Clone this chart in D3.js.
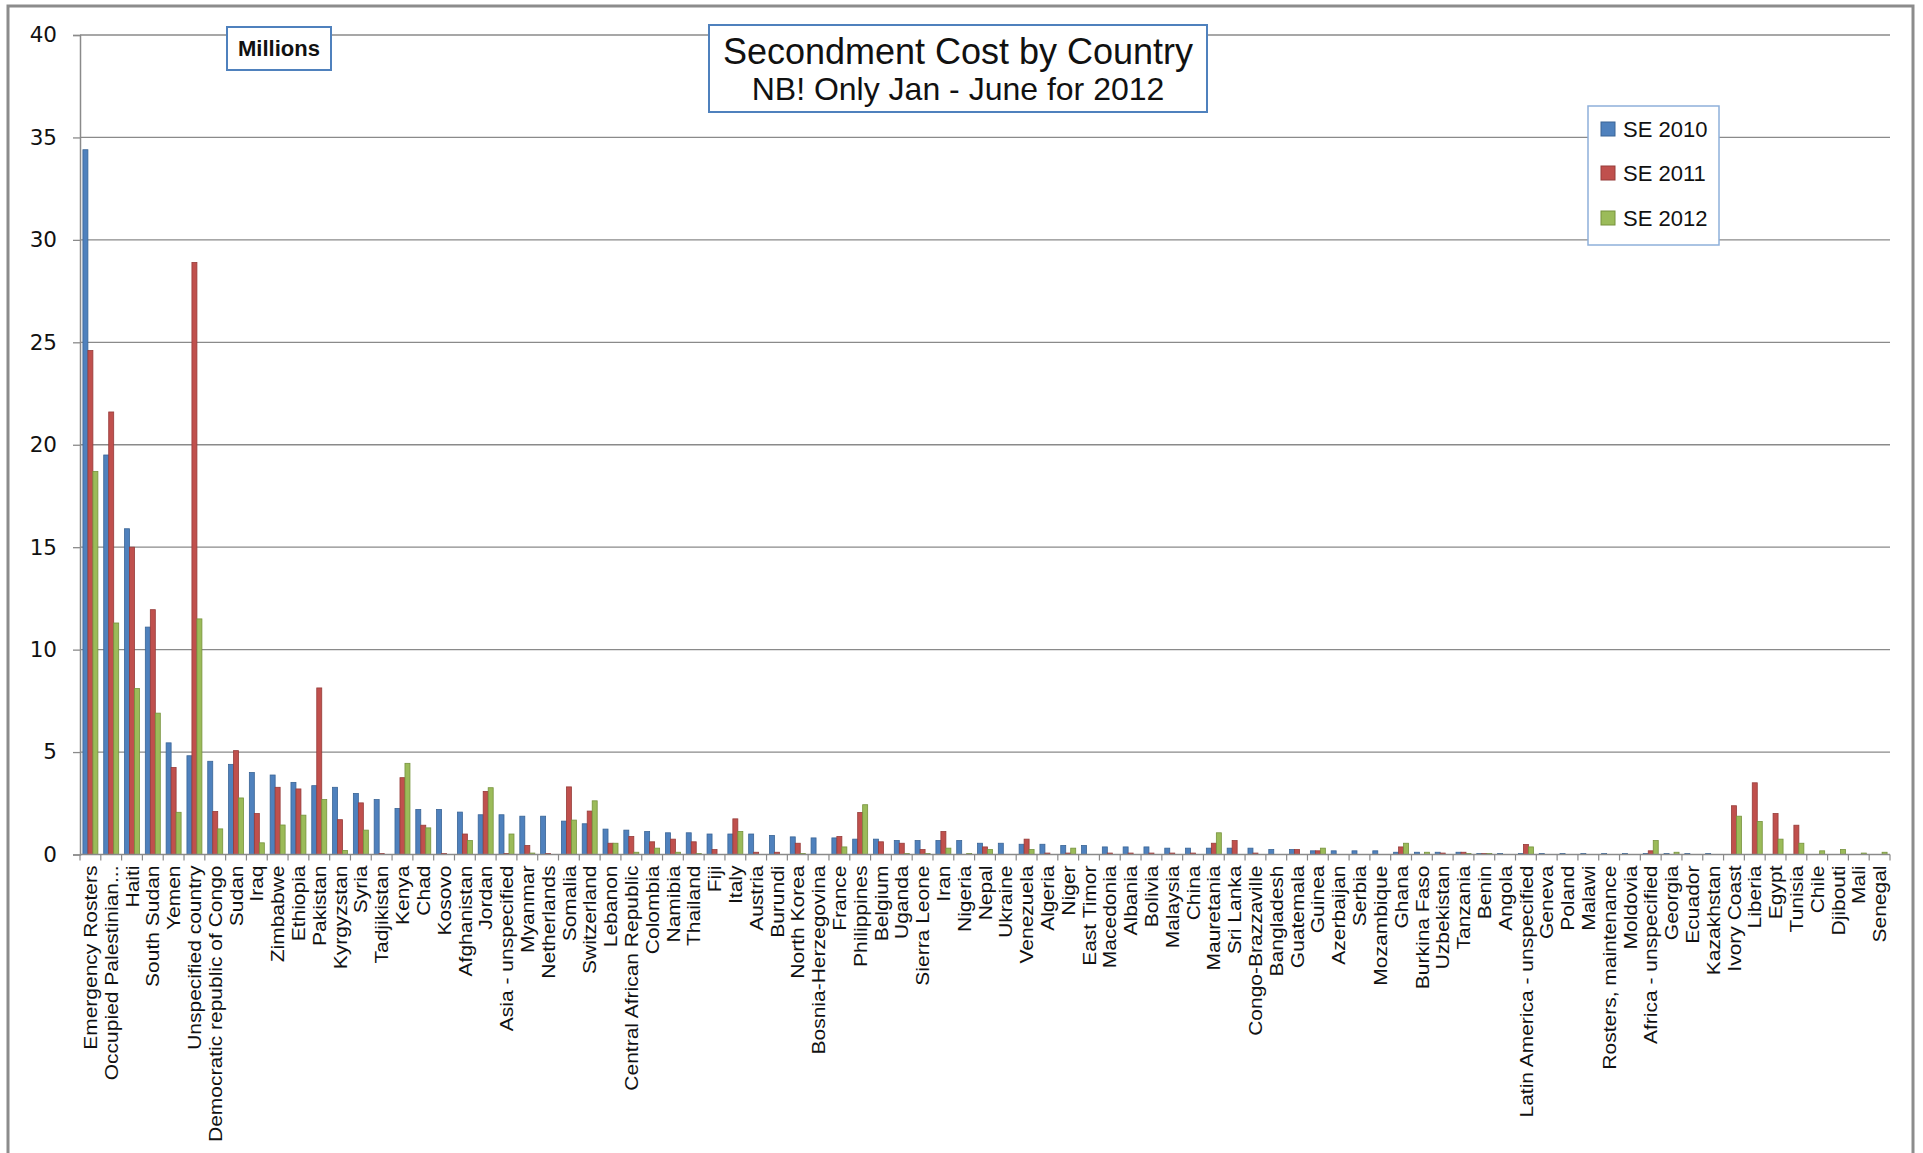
<!DOCTYPE html>
<html>
<head>
<meta charset="utf-8">
<script src="https://cdn.jsdelivr.net/npm/d3@7/dist/d3.min.js"></script>
<style>
  html, body { margin: 0; padding: 0; background: #fff; overflow: hidden; }
  svg { display: block; }
</style>
</head>
<body>
<svg id="chart" width="1923" height="1153"></svg>
<script>
const categories = [
  "Emergency Rosters","Occupied Palestinian...","Haiti","South Sudan","Yemen","Unspecified country",
  "Democratic republic of Congo","Sudan","Iraq","Zimbabwe","Ethiopia","Pakistan","Kyrgyzstan","Syria",
  "Tadjikistan","Kenya","Chad","Kosovo","Afghanistan","Jordan","Asia - unspecified","Myanmar",
  "Netherlands","Somalia","Switzerland","Lebanon","Central African Republic","Colombia","Namibia",
  "Thailand","Fiji","Italy","Austria","Burundi","North Korea","Bosnia-Herzegovina","France",
  "Philippines","Belgium","Uganda","Sierra Leone","Iran","Nigeria","Nepal","Ukraine","Venezuela",
  "Algeria","Niger","East Timor","Macedonia","Albania","Bolivia","Malaysia","China","Mauretania",
  "Sri Lanka","Congo-Brazzaville","Bangladesh","Guatemala","Guinea","Azerbaijan","Serbia",
  "Mozambique","Ghana","Burkina Faso","Uzbekistan","Tanzania","Benin","Angola",
  "Latin America - unspecified","Geneva","Poland","Malawi","Rosters, maintenance","Moldovia",
  "Africa - unspecified","Georgia","Ecuador","Kazakhstan","Ivory Coast","Liberia","Egypt","Tunisia",
  "Chile","Djibouti","Mali","Senegal"
];

const se2010 = [
  34.4,19.5,15.9,11.1,5.45,4.82,4.55,4.4,4.0,3.88,3.52,3.36,3.28,2.98,2.68,2.25,2.2,2.2,2.07,1.94,
  1.94,1.87,1.87,1.63,1.5,1.24,1.19,1.12,1.06,1.06,1.0,1.0,1.0,0.93,0.86,0.81,0.81,0.75,0.75,0.68,
  0.68,0.68,0.68,0.55,0.55,0.5,0.5,0.44,0.44,0.37,0.37,0.37,0.31,0.31,0.31,0.31,0.31,0.24,0.24,0.18,
  0.18,0.18,0.18,0.11,0.11,0.11,0.11,0.05,0.05,0.05,0.05,0.05,0.05,0.05,0.05,0.05,0.05,0.05,0.05,
  0,0,0,0,0,0,0,0
];
const se2011 = [
  24.6,21.6,15.0,11.95,4.25,28.9,2.1,5.07,2.0,3.28,3.2,8.13,1.7,2.52,0.05,3.75,1.43,0.05,1.0,3.08,
  0.05,0.44,0.05,3.3,2.12,0.55,0.88,0.62,0.75,0.62,0.24,1.74,0.11,0.11,0.55,0,0.88,2.05,0.62,0.55,
  0.24,1.12,0,0.37,0,0.75,0.07,0.07,0,0.07,0.07,0.07,0.07,0.07,0.55,0.68,0.07,0,0.24,0.18,
  0,0,0,0.37,0,0.07,0.11,0.05,0,0.49,0,0,0,0,0,0.18,0,0,0,
  2.38,3.5,2.0,1.43,0,0,0,0
];
const se2012 = [
  18.7,11.3,8.1,6.9,2.06,11.5,1.25,2.76,0.57,1.44,1.92,2.68,0.2,1.19,0,4.45,1.3,0,0.68,3.26,
  1.0,0.07,0,1.68,2.62,0.55,0.11,0.31,0.11,0.05,0,1.12,0,0,0.05,0,0.37,2.43,0,0.05,
  0.05,0.31,0.05,0.24,0,0.24,0,0.31,0,0,0,0,0,0,1.06,0,0,0,0,0.31,
  0,0,0,0.55,0.11,0,0.05,0.05,0,0.37,0,0,0,0,0,0.68,0.11,0,0,
  1.87,1.61,0.75,0.55,0.18,0.24,0.07,0.11
];

const seriesNames = ["SE 2010","SE 2011","SE 2012"];
const yTicks = [0,5,10,15,20,25,30,35,40];
const titleLines = ["Secondment Cost by Country","NB! Only Jan - June for 2012"];
const unitLabel = "Millions";

const fills = ["#4F81BD","#C0504D","#9BBB59"];
const strokes = ["#3A6596","#963C3A","#76923C"];

const svg = d3.select("#chart");
const plot = {left: 80, right: 1890, top: 35, bottom: 854.5};

// outer frame
svg.append("rect").attr("x", 8).attr("y", 6).attr("width", 1905).attr("height", 1165)
  .attr("fill", "#fff").attr("stroke", "#8c8c8c").attr("stroke-width", 3);

const x0 = d3.scaleBand().domain(categories).range([plot.left, plot.right])
  .paddingInner(0.28).paddingOuter(0.14);
const x1 = d3.scaleBand().domain(seriesNames).range([0, x0.bandwidth()]).padding(0);
const y = d3.scaleLinear().domain([0, 40]).range([plot.bottom, plot.top]);

// gridlines
svg.append("g").selectAll("line").data(yTicks.filter(d => d > 0)).join("line")
  .attr("x1", plot.left).attr("x2", plot.right)
  .attr("y1", d => y(d)).attr("y2", d => y(d))
  .attr("stroke", "#8a8a8a").attr("stroke-width", 1.3);

// y axis
const yAxis = svg.append("g").attr("transform", `translate(${plot.left},0)`)
  .call(d3.axisLeft(y).tickValues(yTicks).tickSize(7).tickPadding(16).tickFormat(d3.format("d")));
yAxis.select(".domain").attr("stroke", "#8a8a8a").attr("stroke-width", 1.5);
yAxis.selectAll(".tick line").attr("stroke", "#8a8a8a").attr("stroke-width", 1.3);
yAxis.selectAll(".tick text").attr("font-family", "DejaVu Sans, Verdana, sans-serif")
  .attr("font-size", 21.5).attr("fill", "#111");

// bars
const data = categories.map((c, i) => ({c, v: [se2010[i], se2011[i], se2012[i]]}));
const groups = svg.append("g").selectAll("g").data(data).join("g")
  .attr("transform", d => `translate(${x0(d.c)},0)`);
groups.selectAll("rect").data(d => d.v.map((v, k) => ({k, v}))).join("rect")
  .filter(d => d.v > 0)
  .attr("x", d => x1(seriesNames[d.k]))
  .attr("y", d => y(d.v))
  .attr("width", x1.bandwidth())
  .attr("height", d => y(0) - y(d.v))
  .attr("fill", d => fills[d.k])
  .attr("stroke", d => strokes[d.k])
  .attr("stroke-width", 0.8);

// x axis baseline and ticks at category boundaries
const xg = svg.append("g");
xg.append("line").attr("x1", plot.left).attr("x2", plot.right)
  .attr("y1", y(0)).attr("y2", y(0)).attr("stroke", "#8a8a8a").attr("stroke-width", 1.5);
const boundaries = categories.map(c => x0(c) - x0.step() * x0.paddingOuter());
boundaries.push(plot.right);
xg.selectAll("line.t").data(boundaries).join("line").attr("class", "t")
  .attr("x1", d => d).attr("x2", d => d)
  .attr("y1", y(0)).attr("y2", y(0) + 6)
  .attr("stroke", "#8a8a8a").attr("stroke-width", 1.2);

// category labels
xg.selectAll("text").data(categories).join("text")
  .attr("transform", d => `translate(${x0(d) + x0.bandwidth() / 2},${y(0) + 11}) rotate(-90) scale(1,0.9)`)
  .attr("text-anchor", "end")
  .attr("dy", "0.35em")
  .attr("font-family", "Liberation Sans, Arial, sans-serif")
  .attr("font-size", 21)
  .attr("fill", "#111")
  .text(d => d);

// Millions box
svg.append("rect").attr("x", 227).attr("y", 27).attr("width", 104).attr("height", 43)
  .attr("fill", "#fff").attr("stroke", "#4F81BD").attr("stroke-width", 2);
svg.append("text").attr("x", 279).attr("y", 56).attr("text-anchor", "middle")
  .attr("font-family", "Liberation Sans, Arial, sans-serif").attr("font-weight", "bold")
  .attr("font-size", 22).attr("fill", "#111").text(unitLabel);

// Title box
svg.append("rect").attr("x", 709).attr("y", 25).attr("width", 498).attr("height", 87)
  .attr("fill", "#fff").attr("stroke", "#4F81BD").attr("stroke-width", 2);
svg.append("text").attr("x", 958).attr("y", 64).attr("text-anchor", "middle")
  .attr("font-family", "Liberation Sans, Arial, sans-serif").attr("font-size", 36)
  .attr("fill", "#111").text(titleLines[0]);
svg.append("text").attr("x", 958).attr("y", 100).attr("text-anchor", "middle")
  .attr("font-family", "Liberation Sans, Arial, sans-serif").attr("font-size", 32)
  .attr("fill", "#111").text(titleLines[1]);

// Legend
const lg = svg.append("g");
lg.append("rect").attr("x", 1588).attr("y", 106).attr("width", 131).attr("height", 139)
  .attr("fill", "#fff").attr("stroke", "#8EB0DA").attr("stroke-width", 1.5);
const legY = [129, 173, 218];
seriesNames.forEach((s, k) => {
  lg.append("rect").attr("x", 1601).attr("y", legY[k] - 7).attr("width", 14).attr("height", 14)
    .attr("fill", fills[k]).attr("stroke", strokes[k]).attr("stroke-width", 1);
  lg.append("text").attr("x", 1623).attr("y", legY[k]).attr("dy", "0.35em")
    .attr("font-family", "Liberation Sans, Arial, sans-serif").attr("font-size", 22)
    .attr("fill", "#111").text(s);
});
</script>
</body>
</html>
